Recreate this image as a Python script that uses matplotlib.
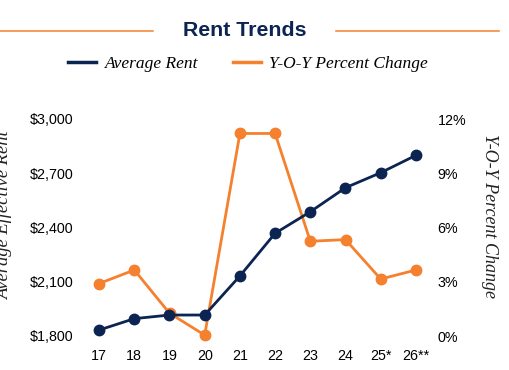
import matplotlib
matplotlib.use('Agg')
import matplotlib.pyplot as plt
from matplotlib.lines import Line2D

# chart data
years = ['17', '18', '19', '20', '21', '22', '23', '24', '25*', '26**']
avg_rent = [1833, 1896, 1916, 1916, 2132, 2368, 2487, 2620, 2703, 2799]
yoy_change = [2.9, 3.65, 1.26, 0.05, 11.2, 11.2, 5.24, 5.33, 3.15, 3.65]

rent_ticks = [1800, 2100, 2400, 2700, 3000]
pct_ticks = [0, 3, 6, 9, 12]

navy = '#0c2451'
orange = '#f5802e'
sans = 'Liberation Sans'
serif = 'Liberation Serif'

fig = plt.figure(figsize=(5.1, 3.7), dpi=100)
ax = fig.add_axes([81.5 / 510, 34 / 370, 352 / 510, 217 / 370])
ax2 = ax.twinx()

x = range(len(years))
ax.plot(x, avg_rent, color=navy, lw=2, marker='o', ms=7.5, clip_on=False, zorder=3)
ax2.plot(x, yoy_change, color=orange, lw=2, marker='o', ms=7.5, clip_on=False, zorder=3)

ax.set_xlim(-0.5, len(years) - 0.5)
ax.set_ylim(1800, 3000)
ax2.set_ylim(0, 12)

ax.set_xticks(list(x))
ax.set_xticklabels(years, fontname=sans, fontsize=10.3)
ax.set_yticks(rent_ticks)
ax.set_yticklabels([f'${v:,}' for v in rent_ticks], fontname=sans, fontsize=10.3)
ax2.set_yticks(pct_ticks)
ax2.set_yticklabels([f'{v}%' for v in pct_ticks], fontname=sans, fontsize=10.3)

ax.tick_params(axis='x', length=0, pad=9)
ax.tick_params(axis='y', length=0, pad=6)
ax2.tick_params(axis='y', length=0, pad=3)

for a in (ax, ax2):
    for s in a.spines.values():
        s.set_visible(False)

# put the navy line above the orange one
ax.set_zorder(ax2.get_zorder() + 1)
ax.patch.set_visible(False)

# axis titles
fig.text(4 / 510, 1 - 216 / 370, 'Average Effective Rent', rotation=90, ha='center', va='center',
         fontname=serif, style='italic', fontsize=13.3, color='#222222')
fig.text(490 / 510, 1 - 216 / 370, 'Y-O-Y Percent Change', rotation=270, ha='center', va='center',
         fontname=serif, style='italic', fontsize=13, color='#222222')

# header with orange rules
fig.text(245 / 510, 1 - 31 / 370, 'Rent Trends', ha='center', va='center',
         fontname=sans, fontweight='bold', fontsize=15.3, color=navy)
fig.add_artist(Line2D([0, 153 / 510], [1 - 31 / 370] * 2, color=orange, lw=1.1))
fig.add_artist(Line2D([336 / 510, 499 / 510], [1 - 31 / 370] * 2, color=orange, lw=1.1))

# legend
handles = [Line2D([], [], color=navy, lw=2.5), Line2D([], [], color=orange, lw=2.5)]
fig.legend(handles, ['Average Rent', 'Y-O-Y Percent Change'], loc='center',
           bbox_to_anchor=(248 / 510, 1 - 64 / 370), ncol=2, frameon=False,
           prop={'family': serif, 'style': 'italic', 'size': 12.5},
           handlelength=1.6, handletextpad=0.5, columnspacing=2.0)

fig.savefig('out.png', dpi=100)
